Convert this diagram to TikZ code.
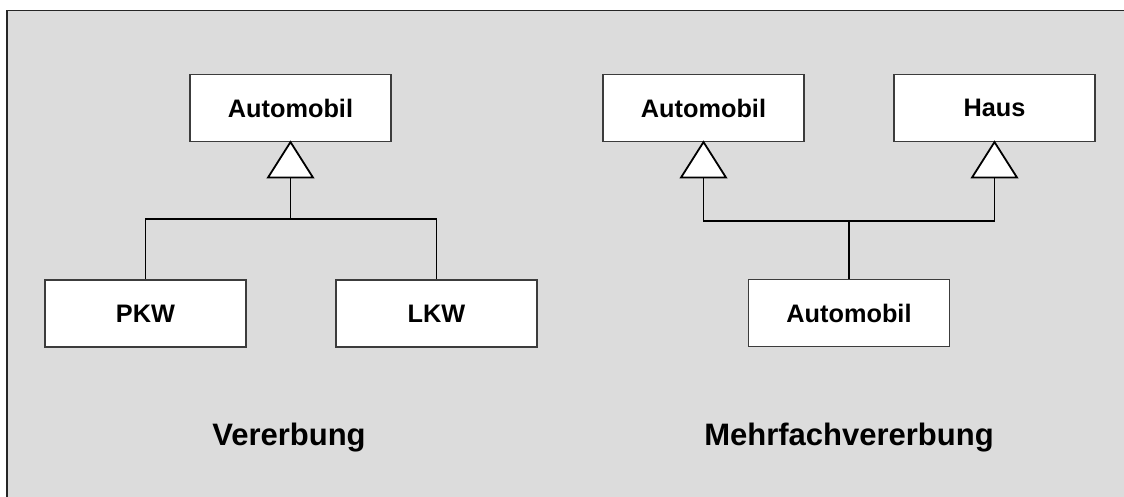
\documentclass[tikz,border=0pt]{standalone}
\usepackage{fontspec}
\setmainfont{Liberation Sans}
\usetikzlibrary{calc}
\definecolor{panel}{HTML}{DCDCDC}
\definecolor{boxline}{HTML}{3C3C3C}
\tikzset{
  cls/.style={draw=boxline, line width=1.1pt, fill=white, minimum width=201pt,
    minimum height=67pt, inner sep=0pt, font=\fontsize{25.3}{30}\selectfont\bfseries},
  conn/.style={draw=black, line width=1.9pt},
  tri/.style={draw=black, line width=1.8pt, fill=white, line join=miter},
  caption/.style={anchor=base, inner sep=0pt, font=\fontsize{31}{36}\selectfont\bfseries}
}
\begin{document}
\begin{tikzpicture}[x=1pt, y=-1pt]
  \useasboundingbox (0,0) rectangle (1124,496);
  % panel
  \fill[panel] (7,10.5) rectangle (1130,502);
  \draw[black!85, line width=1.3pt] (7,502) -- (7,10.5) -- (1130,10.5);

  % single inheritance
  \node[cls] (auto1) at (290.5,108) {Automobil};
  \node[cls] (pkw) at (145.5,313.5) {PKW};
  \node[cls] (lkw) at (436.5,313.5) {LKW};
  \coordinate (t1) at ($(auto1.south)+(0,35.5)$);
  \coordinate (j1) at (290.5,219);
  \draw[conn] (t1) -- (j1) -| (pkw.north);
  \draw[conn] (j1) -| (lkw.north);
  \draw[tri] (auto1.south) -- ++(22.5,35.5) -- ++(-45,0) -- cycle;
  \node[caption] (cap1) at (289,445) {Vererbung};

  % multiple inheritance
  \node[cls] (auto2) at (703.5,108) {Automobil};
  \node[cls] (haus) at (994.5,108) {Haus};
  \node[cls] (auto3) at (849,313) {Automobil};
  \coordinate (t2) at ($(auto2.south)+(0,35.5)$);
  \coordinate (t3) at ($(haus.south)+(0,35.5)$);
  \coordinate (j2) at (849,221);
  \draw[conn] (t2) |- (j2) -| (t3);
  \draw[conn] (j2) -- (auto3.north);
  \draw[tri] (auto2.south) -- ++(22.5,35.5) -- ++(-45,0) -- cycle;
  \draw[tri] (haus.south) -- ++(22.5,35.5) -- ++(-45,0) -- cycle;
  \node[caption] (cap2) at (849,445) {Mehrfachvererbung};
\end{tikzpicture}
\end{document}
